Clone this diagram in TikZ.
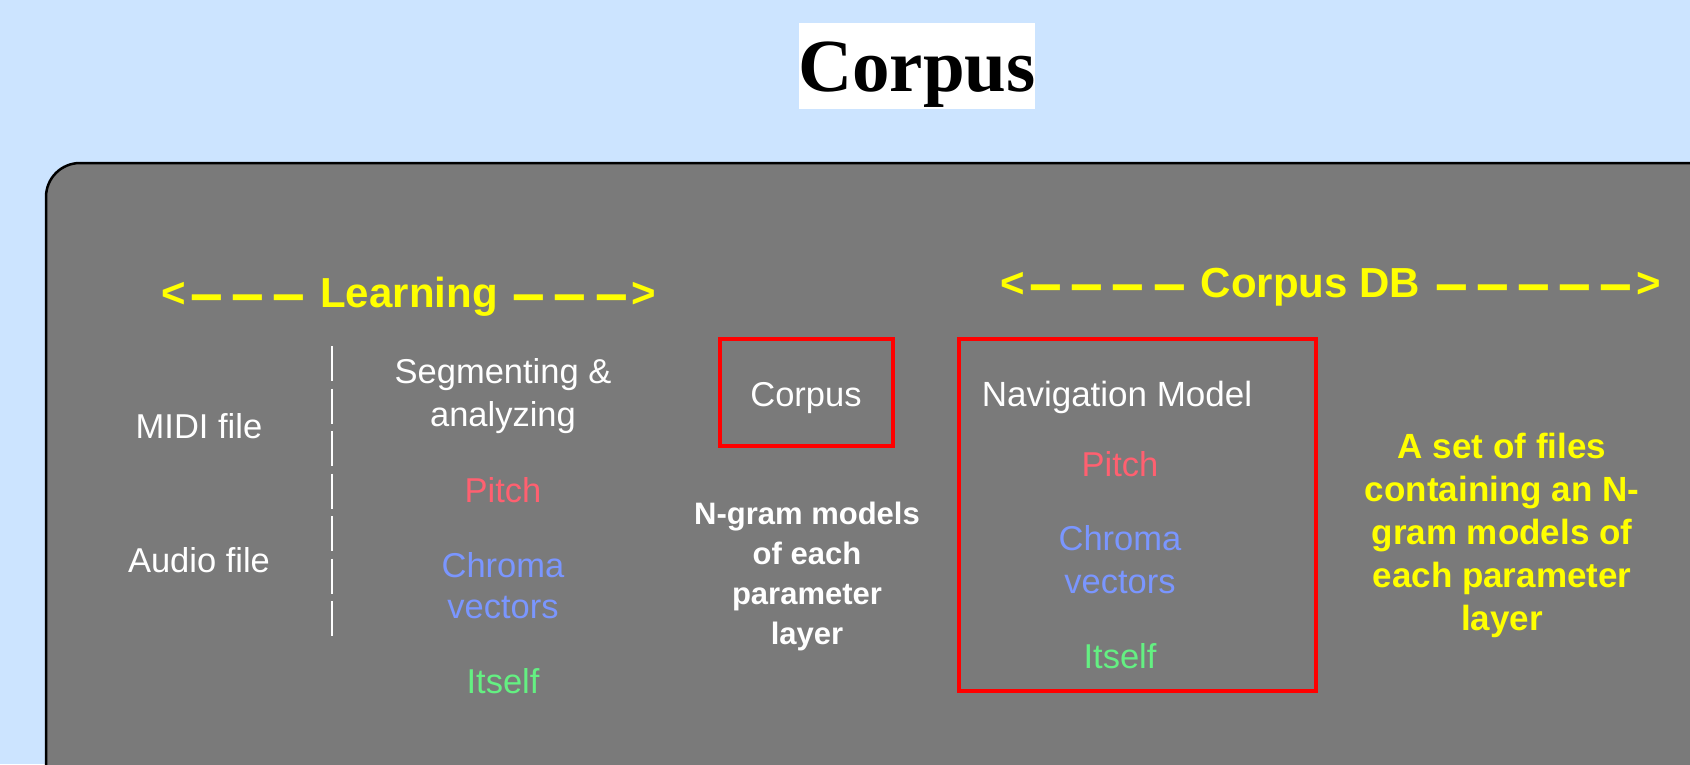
\documentclass[tikz,border=0pt]{standalone}
\usepackage{fontspec}
\setmainfont{Liberation Sans}
\newfontfamily\titlefont{Liberation Serif}
\usepackage{graphicx}
\definecolor{bgblue}{RGB}{204,228,255}
\definecolor{panelgray}{RGB}{122,122,122}
\definecolor{pitchred}{RGB}{255,96,112}
\definecolor{chromablue}{RGB}{122,150,255}
\definecolor{itselfgreen}{RGB}{100,240,130}
\definecolor{hiyellow}{RGB}{255,255,0}
\definecolor{boxred}{RGB}{255,0,0}
\newcommand{\dd}{\raisebox{-6.5pt}{\scalebox{1.4}[1.4]{–}}}
\newcommand{\dg}{\hspace{8.5pt}}
\begin{document}
\begin{tikzpicture}[x=1pt,y=-1pt,
  txt/.style={inner sep=0pt,anchor=base,text=white,align=center,font=\fontsize{34.5}{41}\selectfont},
  boldtxt/.style={inner sep=0pt,anchor=base,align=center,font=\bfseries\fontsize{31}{40}\selectfont},
  heading/.style={inner sep=0pt,anchor=base,text=hiyellow,font=\bfseries\fontsize{42}{48}\selectfont},
  redbox/.style={draw=boxred,line width=4pt}]
\useasboundingbox (0,0) rectangle (1690,764);
\fill[bgblue] (0,0) rectangle (1690,764);
\begin{scope}
\clip (0,0) rectangle (1690,764);
\draw[fill=panelgray,draw=black,line width=2.5pt,rounded corners=34pt] (46,163) rectangle (1740,800);
\end{scope}
% title
\fill[white] (799,23) rectangle (1035,109);
\node[inner sep=0pt,anchor=base,font=\titlefont\bfseries\fontsize{75}{80}\selectfont] (title) at (917,91) {Corpus};
% headings
\node[heading] (learning) at (409,307) {<\hspace{4pt}\dd\dg\dd\dg\dd\hspace{15pt}Learning\hspace{15pt}\dd\dg\dd\dg\dd\hspace{4pt}>};
\node[heading] (corpusdb) at (1331,297) {<\hspace{4pt}\dd\dg\dd\dg\dd\dg\dd\hspace{15pt}Corpus DB\hspace{15pt}\dd\dg\dd\dg\dd\dg\dd\dg\dd\hspace{4pt}>};
% learning column
\node[txt] (midi) at (199,438) {MIDI file};
\node[txt] (audio) at (199,572) {Audio file};
\coordinate (sepTop) at (332,346);
\coordinate (sepBot) at (332,637);
\draw[white,line width=1.5pt,dash pattern=on 35pt off 7.5pt] (sepTop) -- (sepBot);
\node[txt] (seg) at (503,426) {Segmenting \&\\[2pt]analyzing};
\node[txt,text=pitchred] (pitchA) at (503,502) {Pitch};
\node[txt,text=chromablue] (chromaA) at (503,618) {Chroma\\vectors};
\node[txt,text=itselfgreen] (itselfA) at (503,693) {Itself};
% corpus box
\draw[redbox] (720,339) rectangle (893,446);
\node[txt] (corpus) at (806,406) {Corpus};
\node[boldtxt,text=white] (ngram) at (807,644) {N-gram models\\of each\\parameter\\layer};
% navigation box
\draw[redbox] (959,339) rectangle (1316,691);
\node[txt,font=\fontsize{35}{41}\selectfont] (nav) at (1117,406) {Navigation Model};
\node[txt,text=pitchred] (pitchB) at (1120,476) {Pitch};
\node[txt,text=chromablue,font=\fontsize{34.5}{43}\selectfont] (chromaB) at (1120,593) {Chroma\\vectors};
\node[txt,text=itselfgreen] (itselfB) at (1120,668) {Itself};
% right text
\node[boldtxt,text=hiyellow,font=\bfseries\fontsize{35}{43}\selectfont] (files) at (1502,630) {A set of files\\containing an N-\\gram models of\\each parameter\\layer};
\end{tikzpicture}
\end{document}
